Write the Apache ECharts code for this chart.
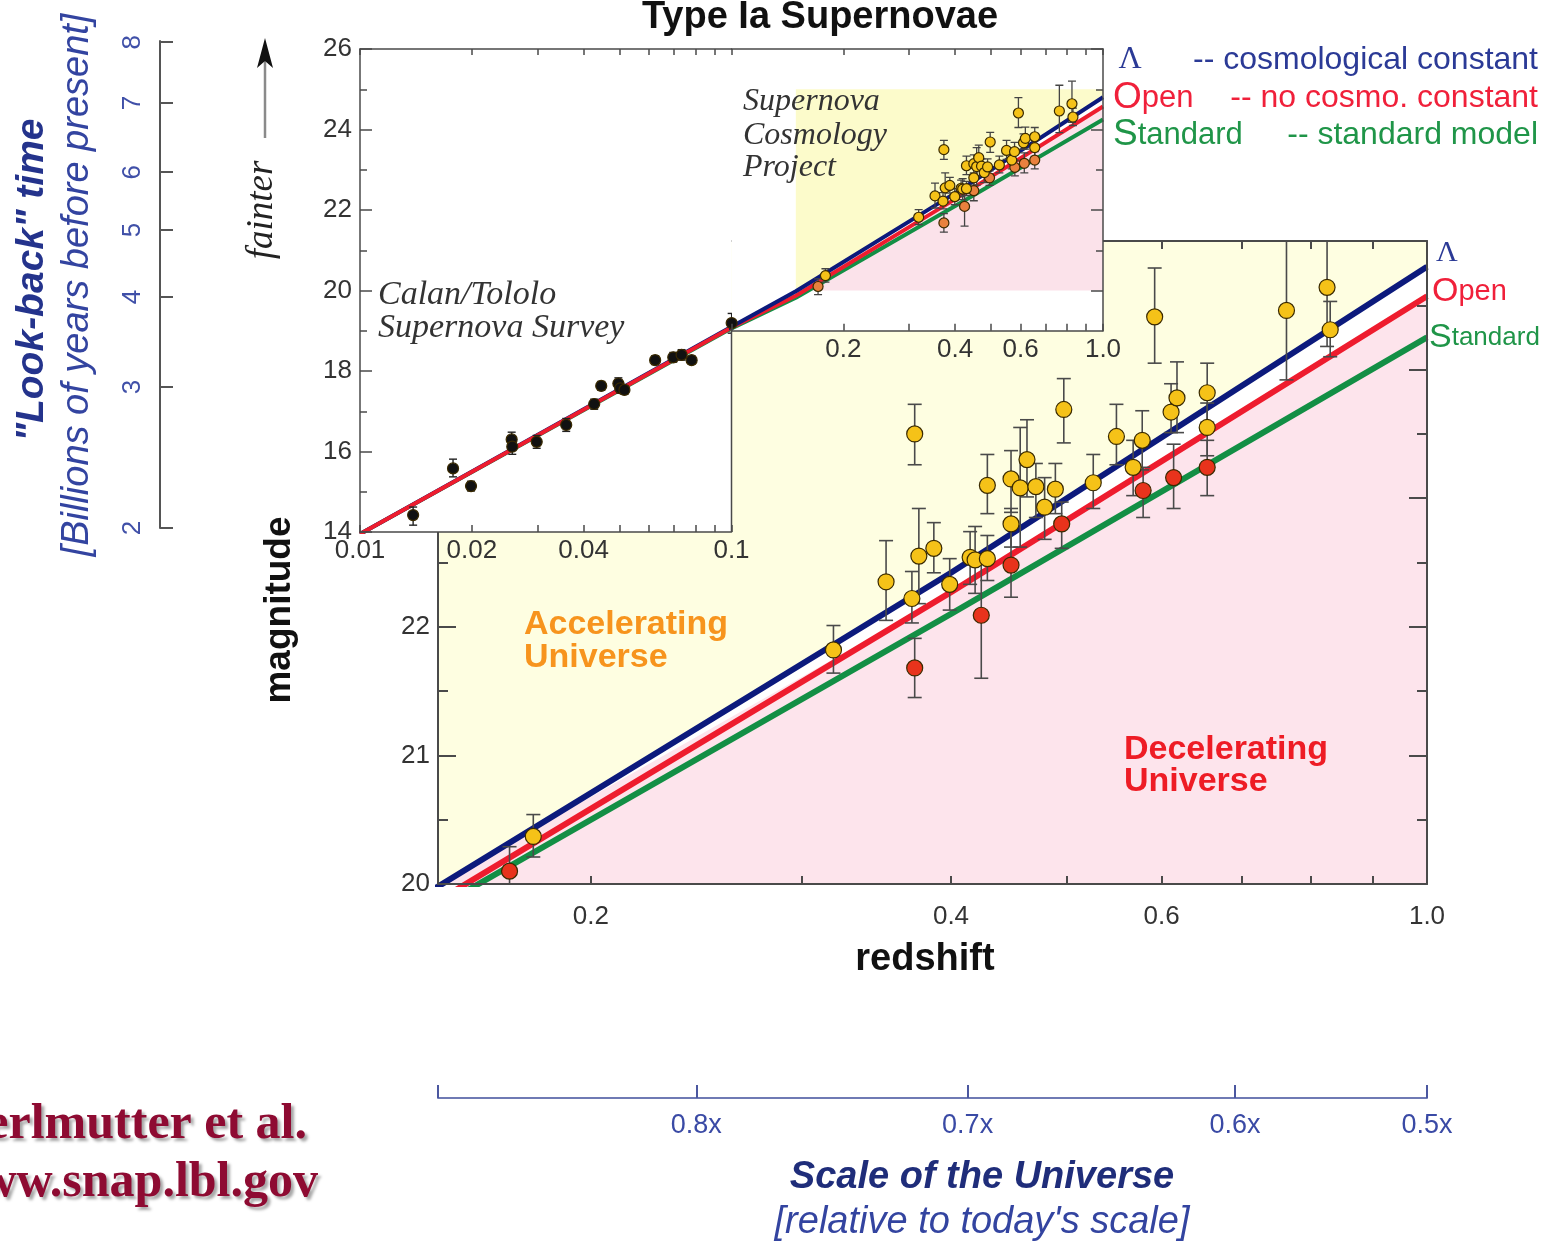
<!DOCTYPE html>
<html>
<head>
<meta charset="utf-8">
<script src="https://cdn.jsdelivr.net/npm/echarts@6/dist/echarts.min.js"></script>
<style>
  html, body { margin: 0; padding: 0; background: #fff; }
  #chart { width: 1549px; height: 1244px; }
</style>
</head>
<body>
<div id="chart"></div>
<script>
const SANS = '"Liberation Sans", Arial, Helvetica, sans-serif';
const SERIF = '"Liberation Serif", "Times New Roman", serif';
const LOG = Math.log10;

// ---- Model curves: [redshift, magnitude] ----
const lambdaCurve   = [[0.01, 13.95], [0.1, 19.10], [0.149, 19.98], [0.4, 22.42], [1.0, 24.80]];
const openCurve     = [[0.01, 13.95], [0.1, 19.08], [0.149, 19.87], [0.4, 22.27], [1.0, 24.57]];
const standardCurve = [[0.01, 13.95], [0.1, 19.06], [0.149, 19.82], [0.4, 22.10], [1.0, 24.25]];

// ---- Supernovae: [redshift, magnitude, lower error, upper error] ----
const calanTololo = [
  [0.0139, 14.42, 14.17, 14.62], [0.0178, 15.58, 15.37, 15.81], [0.0199, 15.14, 15.02, 15.26],
  [0.0256, 16.30, 16.12, 16.48], [0.0257, 16.12, 15.93, 16.30], [0.0299, 16.24, 16.08, 16.40],
  [0.0359, 16.66, 16.50, 16.82], [0.0427, 17.18, 17.05, 17.30], [0.0446, 17.63, 17.52, 17.74],
  [0.0496, 17.69, 17.55, 17.83], [0.0502, 17.57, 17.45, 17.70], [0.0515, 17.53, 17.42, 17.64],
  [0.0623, 18.27, 18.16, 18.38], [0.0697, 18.34, 18.22, 18.46], [0.0734, 18.40, 18.27, 18.53],
  [0.0781, 18.27, 18.17, 18.37], [0.1001, 19.19, 18.94, 19.43]
];
const scpYellow = [
  [0.179, 20.37, 20.21, 20.54], [0.319, 21.82, 21.64, 22.01], [0.353, 22.35, 22.05, 22.67],
  [0.371, 22.22, 22.03, 22.43], [0.373, 23.50, 23.26, 23.73], [0.376, 22.55, 22.18, 22.92],
  [0.387, 22.61, 22.42, 22.81], [0.399, 22.33, 22.13, 22.53], [0.415, 22.54, 22.33, 22.74],
  [0.419, 22.52, 22.26, 22.78], [0.429, 22.53, 22.36, 22.71], [0.429, 23.10, 22.88, 23.34],
  [0.449, 23.15, 22.89, 23.37], [0.449, 22.80, 22.62, 22.92], [0.457, 23.08, 22.62, 23.55],
  [0.463, 23.30, 23.01, 23.61], [0.471, 23.09, 22.85, 23.27], [0.479, 22.93, 22.68, 23.16],
  [0.489, 23.07, 22.88, 23.27], [0.497, 23.69, 23.43, 23.93], [0.526, 23.12, 22.92, 23.34],
  [0.550, 23.48, 23.26, 23.73], [0.568, 23.24, 23.02, 23.45], [0.578, 23.45, 23.22, 23.68],
  [0.592, 24.41, 24.05, 24.79], [0.611, 23.67, 23.51, 23.89], [0.618, 23.78, 23.51, 24.06],
  [0.655, 23.82, 23.59, 24.05], [0.655, 23.55, 23.33, 23.74], [0.763, 24.46, 23.92, 25.10],
  [0.825, 24.64, 24.18, 25.20], [0.830, 24.31, 24.10, 24.53]
];
const scpRed = [
  [0.171, 20.10, 19.90, 20.29], [0.373, 21.68, 21.45, 21.91], [0.424, 22.09, 21.60, 22.52],
  [0.449, 22.48, 22.23, 22.78], [0.495, 22.80, 22.61, 22.97], [0.579, 23.06, 22.85, 23.24],
  [0.614, 23.16, 22.92, 23.42], [0.655, 23.24, 23.02, 23.45]
];

// ---- Axis ticks and labels ----
const mainZTicks = [0.2, 0.3, 0.4, 0.5, 0.6, 0.7, 0.8, 0.9, 1.0];
const mainZLabels = [0.2, 0.4, 0.6, 1.0];
const mainMagMinorTicks = [20.5, 21.5, 22.5, 23.5, 24.5];
const insetLowTicks = [0.01, 0.02, 0.03, 0.04, 0.05, 0.06, 0.07, 0.08, 0.09, 0.1];
const insetLowLabels = [0.01, 0.02, 0.04, 0.1];
const insetHighTicks = [0.1, 0.2, 0.3, 0.4, 0.5, 0.6, 0.7, 0.8, 0.9, 1.0];
const insetHighLabels = [0.2, 0.4, 0.6, 1.0];
const insetMagMajorTicks = [20, 22, 24, 26];
const insetMagMinorTicks = [15, 17, 19, 21, 23, 25];
const lookbackGyr = [2, 3, 4, 5, 6, 7, 8];
const lookbackMag = [14.10, 17.60, 19.84, 21.50, 22.94, 24.66, 26.17];
const scaleFactorLabels = ['', '0.8x', '0.7x', '0.6x', '0.5x'];
const scaleFactorZ = [0.149, 0.245, 0.413, 0.691, 1.0];

const Z_MIN = 0.149;        // left edge of the main panel
const MAG_MIN = 20, MAG_MAX = 25;
const INSET_STEP = 19;      // magnitude where the inset's right half ends

const AX = '#4a4a4a';
const NAVY = '#0c1a7c', RED = '#ee1c2e', GREEN = '#138f45';
const NAVY_TXT = '#2b3a96', RED_TXT = '#f0203a', GREEN_TXT = '#1f9548';

function zLabel(list) {
  return v => {
    const m = list.find(z => Math.abs(LOG(z) - v) < 1e-6);
    return m === undefined ? '' : (m === 1 ? '1.0' : String(m));
  };
}
function pickLabel(values, labels, toAxis) {
  return v => {
    const i = values.findIndex(x => Math.abs(toAxis(x) - v) < 1e-6);
    return i < 0 ? '' : String(labels[i]);
  };
}
function line(color, width) {
  return { onZero: false, lineStyle: { color, width } };
}

function curveSeries(curve, color, width, xi, yi, z) {
  return {
    type: 'line', xAxisIndex: xi, yAxisIndex: yi, z, silent: true, clip: true,
    data: curve.map(p => [LOG(p[0]), p[1]]),
    symbol: 'none', showSymbol: false,
    lineStyle: { color, width, cap: 'butt' }
  };
}

// Filled region between a model curve and the top/bottom magnitude edge
function bandSeries(curve, edge, color, xi, yi, z) {
  return {
    type: 'custom', xAxisIndex: xi, yAxisIndex: yi, z, silent: true, clip: true,
    data: [[LOG(Z_MIN), edge]],
    encode: { x: 0, y: 1 },
    renderItem(params, api) {
      const pts = curve.filter(p => p[0] >= Z_MIN)
        .map(p => api.coord([LOG(p[0]), Math.min(MAG_MAX, Math.max(MAG_MIN, p[1]))]));
      pts.push(api.coord([0, edge]));
      pts.push(api.coord([LOG(Z_MIN), edge]));
      return { type: 'polygon', shape: { points: pts }, style: { fill: color } };
    }
  };
}

function errorBarSeries(data, xi, yi, cap, width, color, z) {
  return {
    type: 'custom', xAxisIndex: xi, yAxisIndex: yi, z, silent: true, clip: true,
    data: data.map(d => [LOG(d[0]), d[1], d[2], d[3]]),
    encode: { x: 0, y: 1 },
    renderItem(params, api) {
      const x = api.value(0);
      const lo = api.coord([x, api.value(2)]);
      const hi = api.coord([x, api.value(3)]);
      const style = { stroke: color, lineWidth: width };
      return {
        type: 'group', children: [
          { type: 'line', shape: { x1: hi[0], y1: hi[1], x2: lo[0], y2: lo[1] }, style },
          { type: 'line', shape: { x1: hi[0] - cap, y1: hi[1], x2: hi[0] + cap, y2: hi[1] }, style },
          { type: 'line', shape: { x1: lo[0] - cap, y1: lo[1], x2: lo[0] + cap, y2: lo[1] }, style }
        ]
      };
    }
  };
}

function pointSeries(data, color, size, xi, yi, z, clip) {
  return {
    type: 'scatter', xAxisIndex: xi, yAxisIndex: yi, z, silent: true, clip,
    data: data.map(d => [LOG(d[0]), d[1]]),
    symbol: 'circle', symbolSize: size,
    itemStyle: { color, borderColor: '#3a2a00', borderWidth: 1.2, opacity: 1 }
  };
}

// A y axis that only draws a set of inside ticks (used for the shorter half-step ticks)
function tickOnlyY(gridIndex, position, min, max, values, length, width, z) {
  return {
    type: 'value', gridIndex, position, min, max, z,
    axisLine: { show: false, onZero: false }, splitLine: { show: false }, axisLabel: { show: false },
    axisTick: { inside: true, length, customValues: values, lineStyle: { color: AX, width } }
  };
}

const tickLabelStyle = { fontSize: 26, color: '#333', fontFamily: SANS };

const xAxes = [
  // 0: main panel, bottom
  { type: 'value', gridIndex: 0, position: 'bottom', min: LOG(Z_MIN), max: 0, z: 6,
    axisLine: line(AX, 2), splitLine: { show: false },
    axisTick: { inside: true, length: 8, customValues: mainZTicks.map(LOG), lineStyle: { color: AX, width: 2 } },
    axisLabel: Object.assign({ customValues: mainZLabels.map(LOG), formatter: zLabel(mainZLabels), margin: 20 }, tickLabelStyle) },
  // 1: main panel, top
  { type: 'value', gridIndex: 0, position: 'top', min: LOG(Z_MIN), max: 0, z: 6,
    axisLine: line(AX, 2), splitLine: { show: false },
    axisTick: { inside: true, length: 8, customValues: mainZTicks.map(LOG), lineStyle: { color: AX, width: 2 } },
    axisLabel: { show: false } },
  // 2: inset low-z, bottom
  { type: 'value', gridIndex: 1, position: 'bottom', min: -2, max: -1, z: 20,
    axisLine: line(AX, 1.5), splitLine: { show: false },
    axisTick: { inside: true, length: 7, customValues: insetLowTicks.map(LOG), lineStyle: { color: AX, width: 1.5 } },
    axisLabel: Object.assign({ customValues: insetLowLabels.map(LOG), formatter: zLabel(insetLowLabels), margin: 6 }, tickLabelStyle) },
  // 3: inset low-z, top
  { type: 'value', gridIndex: 1, position: 'top', min: -2, max: -1, z: 20,
    axisLine: line(AX, 1.5), splitLine: { show: false },
    axisTick: { inside: true, length: 6, customValues: insetLowTicks.map(LOG), lineStyle: { color: AX, width: 1.5 } },
    axisLabel: { show: false } },
  // 4: inset high-z, bottom
  { type: 'value', gridIndex: 2, position: 'bottom', min: -1, max: 0, z: 20,
    axisLine: line(AX, 1.5), splitLine: { show: false },
    axisTick: { inside: true, length: 7, customValues: insetHighTicks.map(LOG), lineStyle: { color: AX, width: 1.5 } },
    axisLabel: Object.assign({ customValues: insetHighLabels.map(LOG), formatter: zLabel(insetHighLabels), margin: 6 }, tickLabelStyle) },
  // 5: inset high-z, top
  { type: 'value', gridIndex: 2, position: 'top', min: -1, max: 0, z: 20,
    axisLine: line(AX, 1.5), splitLine: { show: false },
    axisTick: { inside: true, length: 6, customValues: insetHighTicks.map(LOG), lineStyle: { color: AX, width: 1.5 } },
    axisLabel: { show: false } },
  // 6: look-back panel (hidden)
  { type: 'value', gridIndex: 3, min: 0, max: 1, show: false, axisLine: { onZero: false } },
  // 7: scale factor axis
  { type: 'value', gridIndex: 4, position: 'bottom', min: LOG(Z_MIN), max: 0,
    axisLine: line('#6f7ab4', 2), splitLine: { show: false },
    axisTick: { inside: true, length: 13, customValues: scaleFactorZ.map(LOG), lineStyle: { color: '#4b57a0', width: 2 } },
    axisLabel: { customValues: scaleFactorZ.slice(1).map(LOG),
      formatter: pickLabel(scaleFactorZ, scaleFactorLabels, LOG),
      margin: 14, fontSize: 27, color: '#3a4aa5', fontFamily: SANS } }
];

const yAxes = [
  // 0: main panel, left
  { type: 'value', gridIndex: 0, position: 'left', min: MAG_MIN, max: MAG_MAX, interval: 1, z: 6,
    axisLine: line(AX, 2), splitLine: { show: false },
    axisTick: { inside: true, length: 18, lineStyle: { color: AX, width: 2 } },
    axisLabel: Object.assign({ margin: 8 }, tickLabelStyle) },
  // 1: main panel, right
  { type: 'value', gridIndex: 0, position: 'right', min: MAG_MIN, max: MAG_MAX, interval: 1, z: 6,
    axisLine: line(AX, 2), splitLine: { show: false },
    axisTick: { inside: true, length: 18, lineStyle: { color: AX, width: 2 } },
    axisLabel: { show: false } },
  // 2: inset low-z, left
  { type: 'value', gridIndex: 1, position: 'left', min: 14, max: 26, interval: 2, z: 20,
    axisLine: line(AX, 1.5), splitLine: { show: false },
    axisTick: { inside: true, length: 12, lineStyle: { color: AX, width: 1.5 } },
    axisLabel: Object.assign({ margin: 8 }, tickLabelStyle) },
  // 3: inset high-z, right
  { type: 'value', gridIndex: 2, position: 'right', min: INSET_STEP, max: 26, z: 20,
    axisLine: line(AX, 1.5), splitLine: { show: false },
    axisTick: { inside: true, length: 12, customValues: insetMagMajorTicks, lineStyle: { color: AX, width: 1.5 } },
    axisLabel: { show: false } },
  // 4: look-back time axis
  { type: 'value', gridIndex: 3, position: 'left', min: 14.1, max: 26.2,
    axisLine: line('#555', 2), splitLine: { show: false },
    axisTick: { inside: true, length: 13, customValues: lookbackMag, lineStyle: { color: '#555', width: 2 } },
    axisLabel: { customValues: lookbackMag, formatter: pickLabel(lookbackMag, lookbackGyr, v => v),
      rotate: 90, margin: 14, fontSize: 26, color: '#4050a8', fontFamily: SANS } },
  // 5: scale panel (hidden)
  { type: 'value', gridIndex: 4, min: 0, max: 1, show: false, axisLine: { onZero: false } },
  // 6-9: half-step ticks
  tickOnlyY(0, 'left', MAG_MIN, MAG_MAX, mainMagMinorTicks, 10, 2, 6),
  tickOnlyY(0, 'right', MAG_MIN, MAG_MAX, mainMagMinorTicks, 10, 2, 6),
  tickOnlyY(1, 'left', 14, 26, insetMagMinorTicks, 7, 1.5, 20),
  tickOnlyY(2, 'right', INSET_STEP, 26, insetMagMinorTicks.filter(v => v > INSET_STEP), 7, 1.5, 20)
];

const series = [
  // main panel
  bandSeries(lambdaCurve, MAG_MAX, '#fefee1', 0, 0, 1),
  bandSeries(openCurve, MAG_MIN, '#fde4ec', 0, 0, 1),
  curveSeries(standardCurve, GREEN, 6, 0, 0, 3),
  curveSeries(openCurve, RED, 6, 0, 0, 3),
  curveSeries(lambdaCurve, NAVY, 6, 0, 0, 3),
  errorBarSeries(scpRed, 0, 0, 7, 1.6, '#4a4a4a', 4),
  errorBarSeries(scpYellow, 0, 0, 7, 1.6, '#4a4a4a', 4),
  pointSeries(scpRed, '#e8331c', 16, 0, 0, 5, true),
  pointSeries(scpYellow, '#f5c218', 16, 0, 0, 5, true),

  // inset, low redshift half
  curveSeries(standardCurve, GREEN, 4, 2, 2, 12),
  curveSeries(lambdaCurve, NAVY, 4, 2, 2, 12),
  curveSeries(openCurve, RED, 4, 2, 2, 12),
  errorBarSeries(calanTololo, 2, 2, 4, 1.4, '#222', 13),
  pointSeries(calanTololo, '#111', 11, 2, 2, 14, false),
  {
    type: 'custom', xAxisIndex: 2, yAxisIndex: 2, z: 20, silent: true,
    data: [[-1, INSET_STEP]], encode: { x: 0, y: 1 },
    renderItem(params, api) {
      const a = api.coord([-1, INSET_STEP]);
      const b = api.coord([-1, 14]);
      return { type: 'line', shape: { x1: a[0], y1: a[1] - 1, x2: b[0], y2: b[1] }, style: { stroke: AX, lineWidth: 1.5 } };
    }
  },

  // inset, high redshift half
  bandSeries(lambdaCurve, MAG_MAX, '#fcfbcb', 4, 3, 11),
  bandSeries(openCurve, MAG_MIN, '#fbe2ea', 4, 3, 11),
  curveSeries(standardCurve, GREEN, 4, 4, 3, 12),
  curveSeries(openCurve, RED, 4, 4, 3, 12),
  curveSeries(lambdaCurve, NAVY, 4, 4, 3, 12),
  errorBarSeries(scpRed, 4, 3, 4, 1.3, '#444', 13),
  errorBarSeries(scpYellow, 4, 3, 4, 1.3, '#444', 13),
  pointSeries(scpRed, '#e9813e', 10, 4, 3, 14, true),
  pointSeries(scpYellow, '#f5c218', 10, 4, 3, 15, true)
];

function txt(text, x, y, font, fill, extra) {
  return Object.assign({ type: 'text', x, y, z: 100, silent: true,
    style: Object.assign({ text, font, fill, align: 'left', verticalAlign: 'middle' }, (extra && extra.style) || {}) },
    extra ? { rotation: extra.rotation || 0 } : {});
}

const legendRich = (color, bigSize, smallSize, family) => ({
  rich: {
    b: { fontSize: bigSize, fontFamily: family, fill: color },
    s: { fontSize: smallSize, fontFamily: family, fill: color }
  }
});

const creditStyle = { align: 'right', textShadowColor: 'rgba(0,0,0,0.35)', textShadowBlur: 3, textShadowOffsetX: 3, textShadowOffsetY: 3 };

const graphics = [
  txt('Type Ia Supernovae', 820, 18, `bold 38px ${SANS}`, '#111', { style: { align: 'center' } }),

  // legend, top right
  txt('Λ', 1130, 60, `32px ${SERIF}`, NAVY_TXT, { style: { align: 'center' } }),
  { type: 'text', x: 1113, y: 98, z: 100, silent: true,
    style: Object.assign({ text: '{b|O}{s|pen}', verticalAlign: 'middle' }, legendRich(RED_TXT, 37, 31, SANS)) },
  { type: 'text', x: 1113, y: 135, z: 100, silent: true,
    style: Object.assign({ text: '{b|S}{s|tandard}', verticalAlign: 'middle' }, legendRich(GREEN_TXT, 37, 31, SANS)) },
  txt('-- cosmological constant', 1538, 60, `32px ${SANS}`, NAVY_TXT, { style: { align: 'right' } }),
  txt('-- no cosmo. constant', 1538, 98, `32px ${SANS}`, RED_TXT, { style: { align: 'right' } }),
  txt('-- standard model', 1538, 135, `32px ${SANS}`, GREEN_TXT, { style: { align: 'right' } }),

  // curve labels at the right edge of the main panel
  txt('Λ', 1447, 253, `30px ${SERIF}`, NAVY_TXT, { style: { align: 'center' } }),
  { type: 'text', x: 1432, y: 292, z: 100, silent: true,
    style: Object.assign({ text: '{b|O}{s|pen}', verticalAlign: 'middle' }, legendRich(RED_TXT, 34, 29, SANS)) },
  { type: 'text', x: 1429, y: 338, z: 100, silent: true,
    style: Object.assign({ text: '{b|S}{s|tandard}', verticalAlign: 'middle' }, legendRich(GREEN_TXT, 34, 26, SANS)) },

  // "fainter" arrow
  { type: 'line', z: 100, silent: true, shape: { x1: 265, y1: 138, x2: 265, y2: 60 }, style: { stroke: '#8a8a8a', lineWidth: 2.5 } },
  { type: 'polygon', z: 100, silent: true, shape: { points: [[265, 38], [257, 68], [265, 61], [273, 68]] }, style: { fill: '#111' } },
  txt('fainter', 262, 210, `italic 37px ${SERIF}`, '#222', { rotation: Math.PI / 2, style: { align: 'center' } }),

  txt('magnitude', 280, 610, `bold 37px ${SANS}`, '#111', { rotation: Math.PI / 2, style: { align: 'center' } }),
  txt('redshift', 925, 960, `bold 38px ${SANS}`, '#111', { style: { align: 'center' } }),

  txt('Calan/Tololo', 378, 295, `italic 34px ${SERIF}`, '#333'),
  txt('Supernova Survey', 378, 328, `italic 34px ${SERIF}`, '#333'),
  txt('Supernova', 743, 102, `italic 32px ${SERIF}`, '#333'),
  txt('Cosmology', 743, 136, `italic 32px ${SERIF}`, '#333'),
  txt('Project', 743, 168, `italic 32px ${SERIF}`, '#333'),

  txt('Accelerating', 524, 625, `bold 34px ${SANS}`, '#f7941d'),
  txt('Universe', 524, 658, `bold 34px ${SANS}`, '#f7941d'),
  txt('Decelerating', 1124, 750, `bold 34px ${SANS}`, '#ee1c25'),
  txt('Universe', 1124, 782, `bold 34px ${SANS}`, '#ee1c25'),

  // look-back time axis titles
  txt('"Look-back" time', 32, 280, `italic bold 39px ${SANS}`, '#24338c', { rotation: Math.PI / 2, style: { align: 'center' } }),
  txt('[Billions of years before present]', 77, 285, `italic 38px ${SANS}`, '#3344a0', { rotation: Math.PI / 2, style: { align: 'center' } }),

  // scale factor axis titles
  txt('Scale of the Universe', 982, 1178, `italic bold 38px ${SANS}`, '#1f2d7a', { style: { align: 'center' } }),
  txt("[relative to today's scale]", 982, 1222, `italic 38px ${SANS}`, '#3344a0', { style: { align: 'center' } }),

  // credits
  txt('Perlmutter et al.', 307, 1125, `bold 50px ${SERIF}`, '#8e0b32', { style: creditStyle }),
  txt('www.snap.lbl.gov', 318, 1183, `bold 50px ${SERIF}`, '#8e0b32', { style: creditStyle })
];

const chart = echarts.init(document.getElementById('chart'), null, { renderer: 'canvas' });
chart.setOption({
  animation: false,
  backgroundColor: '#fff',
  textStyle: { fontFamily: SANS },
  grid: [
    { left: 438, top: 241, width: 989, height: 643, show: false },
    { left: 360, top: 49, width: 371.5, height: 483, show: true, backgroundColor: '#fff', borderWidth: 0, z: 10 },
    { left: 731.5, top: 49, width: 371.5, height: 281.75, show: true, backgroundColor: '#fff', borderWidth: 0, z: 10 },
    { left: 160, top: 40.95, width: 20, height: 487, show: false },
    { left: 438, top: 1050, width: 989, height: 48, show: false }
  ],
  xAxis: xAxes,
  yAxis: yAxes,
  series,
  graphic: { elements: graphics }
});
</script>
</body>
</html>
